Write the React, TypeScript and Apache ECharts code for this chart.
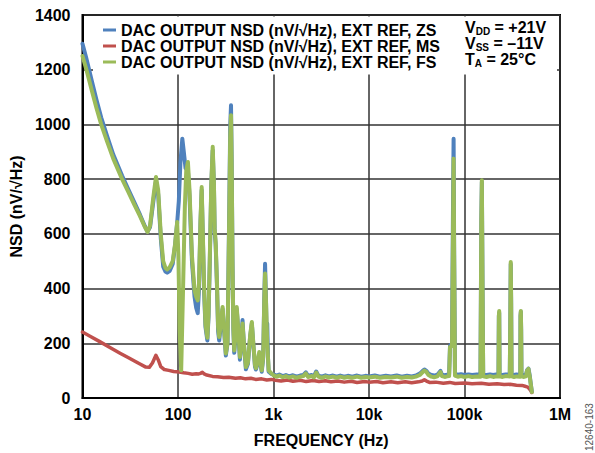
import React, { useEffect, useRef } from "react";
import * as echarts from "echarts";

// ---- data (frequency in Hz, NSD in nV/√Hz) ----
const seriesNames = [
  "DAC OUTPUT NSD (nV/√Hz), EXT REF, ZS",
  "DAC OUTPUT NSD (nV/√Hz), EXT REF, MS",
  "DAC OUTPUT NSD (nV/√Hz), EXT REF, FS",
];

const xTickValues = [10, 100, 1000, 10000, 100000, 1000000];
const xTickText = ["10", "100", "1k", "10k", "100k", "1M"];
const yTickValues = [0, 200, 400, 600, 800, 1000, 1200, 1400];

const conditionRows = [
  { main: "V", sub: "DD", rest: " = +21V" },
  { main: "V", sub: "SS", rest: " = –11V" },
  { main: "T", sub: "A", rest: " = 25°C" },
];

const zsData: number[][] = [
  [10, 1295], [11, 1240], [12.5, 1160], [14, 1090], [15.7, 1025], [18, 960], [21, 890], [26, 812],
  [30, 765], [35, 714], [40, 670], [45, 628], [48, 608], [51, 625], [55, 715], [58.8, 792], [62, 745],
  [66, 585], [70, 480], [74, 462], [77, 458], [82, 465], [88, 490], [93, 555], [98, 640], [102, 720],
  [106, 860], [111, 948], [115, 900], [120, 840], [127, 830], [132, 740], [140, 500], [149, 370],
  [155, 330], [161, 310], [166, 400], [172, 640], [177, 760], [182, 590], [188, 380], [194, 260],
  [203, 210], [209, 300], [215, 490], [223, 770], [231, 905], [238, 770], [242, 610], [248, 560],
  [256, 410], [263, 245], [270, 210], [282, 270], [293, 325], [305, 240], [317, 155], [330, 200],
  [345, 720], [352, 990], [359, 1070], [365, 870], [372, 510], [380, 250], [388, 165], [400, 225],
  [412, 325], [428, 245], [445, 140], [460, 205], [474, 285], [490, 195], [514, 105], [540, 125],
  [570, 225], [593, 272], [615, 195], [640, 115], [655, 104], [680, 125], [709, 160], [730, 125],
  [753, 96], [780, 145], [800, 360], [816, 491], [835, 355], [850, 200], [860, 272], [875, 150],
  [890, 96], [950, 88], [1000, 86], [1080, 82], [1150, 86], [1250, 80], [1350, 84], [1450, 79],
  [1600, 83], [1750, 78], [1900, 82], [2050, 84], [2180, 94], [2300, 81], [2500, 84], [2650, 79],
  [2800, 97], [2950, 82], [3200, 78], [3500, 83], [3800, 79], [4200, 82], [4600, 78], [5000, 82],
  [5500, 78], [6000, 81], [6700, 78], [7500, 82], [8300, 78], [9200, 81], [10000, 79], [11500, 82],
  [13000, 78], [15000, 81], [17000, 79], [19500, 82], [22000, 78], [25000, 81], [28000, 79],
  [31000, 82], [34000, 89], [36500, 99], [38000, 104], [40000, 99], [42000, 89], [45000, 84],
  [48000, 82], [52000, 85], [56000, 99], [58000, 86], [62000, 83], [66000, 85], [69000, 86],
  [70500, 190], [74000, 200], [75800, 700], [76900, 948], [78000, 520], [79500, 88], [85000, 85],
  [92000, 87], [100000, 84], [110000, 86], [120000, 84], [135000, 86], [147000, 85], [150000, 650],
  [152000, 790], [154500, 400], [157000, 86], [170000, 84], [185000, 86], [200000, 84], [215000, 86],
  [227000, 86], [229000, 300], [231000, 312], [233000, 86], [250000, 84], [270000, 86], [298000, 86],
  [302000, 300], [305000, 490], [308000, 350], [311000, 86], [330000, 84], [350000, 86], [384000, 84],
  [386000, 300], [389000, 315], [392000, 250], [395000, 86], [420000, 84], [440000, 85], [452000, 102],
  [460000, 90], [467000, 108], [474000, 96], [482000, 82], [495000, 50], [507000, 24],
];

const msData: number[][] = [
  [10, 241], [12, 226], [15, 207], [20, 182], [25, 163], [30, 148], [35, 135], [40, 124], [46, 113],
  [50, 112], [54, 128], [58.7, 156], [62, 140], [66, 115], [72, 104], [80, 101], [90, 97], [103, 95],
  [115, 92], [128, 90], [141, 87], [155, 89], [165, 88], [172, 90], [180, 94], [188, 88], [200, 84],
  [230, 79], [260, 78], [300, 75], [340, 76], [400, 72], [450, 74], [510, 70], [580, 72], [650, 68],
  [750, 70], [850, 66], [950, 68], [1050, 65], [1200, 62], [1400, 66], [1600, 61], [1900, 65],
  [2200, 60], [2600, 64], [3000, 60], [3500, 63], [4000, 59], [4700, 62], [5500, 58], [6500, 61],
  [7500, 57], [9000, 60], [10000, 58], [12000, 60], [14000, 56], [17000, 59], [20000, 56],
  [24000, 59], [28000, 56], [33000, 59], [36000, 62], [38000, 67], [40000, 62], [43000, 57],
  [50000, 58], [60000, 54], [70000, 57], [80000, 53], [100000, 55], [120000, 52], [150000, 54],
  [180000, 50], [220000, 52], [260000, 49], [300000, 50], [350000, 47], [400000, 46], [430000, 43],
  [460000, 40], [480000, 33], [495000, 26], [507000, 20],
];

const fsData: number[][] = [
  [10, 1250], [11, 1200], [12.5, 1125], [14, 1060], [15.7, 1000], [18, 940], [21, 875], [26, 800],
  [30, 755], [35, 706], [40, 665], [45, 625], [48, 607], [51, 630], [55, 730], [58.8, 808], [62, 760],
  [66, 600], [70, 500], [74, 475], [77, 470], [82, 478], [88, 500], [93, 560], [98, 643], [101, 520],
  [104, 250], [108, 101], [113, 400], [118, 700], [122, 830], [127, 863], [132, 760], [140, 520],
  [149, 394], [155, 370], [161, 357], [166, 420], [172, 650], [177, 771], [182, 600], [188, 400],
  [194, 270], [203, 220], [209, 310], [215, 500], [223, 780], [231, 918], [238, 780], [242, 620],
  [248, 570], [256, 420], [263, 260], [270, 223], [282, 280], [293, 333], [305, 250], [317, 163],
  [330, 200], [345, 700], [352, 950], [359, 1034], [365, 850], [372, 500], [380, 260], [388, 174],
  [400, 230], [412, 333], [428, 250], [445, 150], [460, 200], [474, 272], [490, 200], [514, 113],
  [540, 130], [570, 230], [593, 278], [615, 200], [640, 120], [655, 109], [680, 130], [709, 168],
  [730, 130], [753, 101], [780, 150], [800, 350], [816, 455], [835, 350], [860, 200], [890, 101],
  [950, 90], [1000, 83], [1080, 78], [1150, 82], [1250, 76], [1350, 80], [1450, 75], [1600, 79],
  [1750, 74], [1900, 78], [2050, 80], [2180, 90], [2300, 77], [2500, 80], [2650, 75], [2800, 93],
  [2950, 78], [3200, 74], [3500, 79], [3800, 75], [4200, 78], [4600, 74], [5000, 78], [5500, 74],
  [6000, 77], [6700, 74], [7500, 78], [8300, 74], [9200, 77], [10000, 75], [11500, 78], [13000, 74],
  [15000, 77], [17000, 75], [19500, 78], [22000, 74], [25000, 77], [28000, 75], [31000, 78],
  [34000, 84], [36500, 95], [38000, 100], [40000, 95], [42000, 84], [45000, 78], [48000, 76],
  [52000, 79], [56000, 95], [58000, 80], [62000, 77], [66000, 79], [69000, 80], [70500, 186],
  [74000, 190], [75800, 600], [76900, 875], [78000, 500], [79500, 82], [85000, 78], [92000, 80],
  [100000, 77], [110000, 80], [120000, 77], [135000, 79], [147000, 78], [150000, 650], [152000, 796],
  [154500, 400], [157000, 79], [170000, 77], [185000, 80], [200000, 77], [215000, 79], [227000, 79],
  [229000, 300], [231000, 318], [233000, 79], [250000, 77], [270000, 80], [298000, 79], [302000, 300],
  [305000, 497], [308000, 350], [311000, 79], [330000, 77], [350000, 79], [384000, 78], [386000, 300],
  [389000, 318], [392000, 250], [395000, 79], [420000, 77], [440000, 79], [452000, 100], [460000, 85],
  [467000, 107], [474000, 92], [482000, 78], [495000, 48], [507000, 22],
];

const colors = ["#4F81BD", "#C0504D", "#9BBB59"];

const FONT = "'Liberation Sans', Arial, Helvetica, sans-serif";

export default function App() {
  const ref = useRef<HTMLDivElement>(null);

  useEffect(() => {
    if (!ref.current) return;
    const chart = echarts.init(ref.current, undefined, { renderer: "svg" });

    const main = { fontSize: 16, fontWeight: "bold", fontFamily: FONT, color: "#000", lineHeight: 16, verticalAlign: "top" };
    const sub = { fontSize: 10, fontWeight: "bold", fontFamily: FONT, color: "#000", lineHeight: 9, verticalAlign: "top", padding: [7, 0, 0, 0] };

    const condTexts = conditionRows.map((r, i) => ({
      type: "text",
      z: 6,
      x: 465,
      y: 19 + i * 16,
      style: {
        text: `{m|${r.main}}{s|${r.sub}}{m|${r.rest}}`,
        rich: { m: main, s: sub },
      },
    }));

    const option: any = {
      animation: false,
      backgroundColor: "#fff",
      grid: {
        left: 81,
        right: 35,
        top: 15,
        bottom: 55,
        show: true,
        borderColor: "#000",
        borderWidth: 2,
        backgroundColor: "transparent",
      },
      legend: {
        orient: "vertical",
        left: 103,
        top: 22,
        padding: 0,
        itemGap: 0,
        itemWidth: 13,
        itemHeight: 3,
        icon: "rect",
        data: seriesNames,
        textStyle: { fontSize: 16, fontWeight: "bold", fontFamily: FONT, color: "#000", lineHeight: 15.5 },
        selectedMode: false,
        z: 6,
      },
      xAxis: {
        type: "log",
        logBase: 10,
        min: 10,
        max: 1000000,
        name: "FREQUENCY (Hz)",
        nameLocation: "middle",
        nameGap: 34,
        nameTextStyle: { fontSize: 16, fontWeight: "bold", fontFamily: FONT, color: "#000" },
        axisLine: { show: true, lineStyle: { color: "#000", width: 2 } },
        axisTick: { show: false },
        minorTick: { show: false },
        splitLine: { show: true, lineStyle: { color: "#333", width: 1.5 } },
        axisLabel: {
          margin: 8,
          fontSize: 16,
          fontWeight: "bold",
          fontFamily: FONT,
          color: "#000",
          formatter: (v: number) => {
            const i = xTickValues.findIndex((t) => Math.abs(Math.log10(t) - Math.log10(v)) < 1e-6);
            return i >= 0 ? xTickText[i] : "";
          },
        },
      },
      yAxis: {
        type: "value",
        min: yTickValues[0],
        max: yTickValues[yTickValues.length - 1],
        interval: 200,
        name: "NSD (nV/√Hz)",
        nameLocation: "middle",
        nameGap: 46,
        nameTextStyle: { fontSize: 16, fontWeight: "bold", fontFamily: FONT, color: "#000" },
        axisLine: { show: true, lineStyle: { color: "#000", width: 2 } },
        axisTick: { show: false },
        splitLine: { show: true, lineStyle: { color: "#333", width: 1.5 } },
        axisLabel: {
          margin: 12,
          fontSize: 16,
          fontWeight: "bold",
          fontFamily: FONT,
          color: "#000",
          formatter: (v: number) => String(v),
        },
      },
      graphic: [
        {
          type: "rect",
          z: 1,
          shape: { x: 93, y: 16.5, width: 464, height: 58 },
          style: { fill: "#fff" },
        },
        ...condTexts,
        {
          type: "text",
          z: 6,
          x: 584,
          y: 451,
          rotation: Math.PI / 2,
          style: {
            text: "12640-163",
            fontSize: 10,
            fontFamily: FONT,
            fill: "#555",
            align: "left",
            verticalAlign: "top",
          },
        },
      ],
      series: [
        {
          name: seriesNames[0],
          type: "line",
          data: zsData,
          showSymbol: false,
          symbol: "none",
          z: 3,
          lineStyle: { color: colors[0], width: 4, join: "round", cap: "round" },
          itemStyle: { color: colors[0] },
        },
        {
          name: seriesNames[1],
          type: "line",
          data: msData,
          showSymbol: false,
          symbol: "none",
          z: 2,
          lineStyle: { color: colors[1], width: 3.5, join: "round", cap: "round" },
          itemStyle: { color: colors[1] },
        },
        {
          name: seriesNames[2],
          type: "line",
          data: fsData,
          showSymbol: false,
          symbol: "none",
          z: 4,
          lineStyle: { color: colors[2], width: 4, join: "round", cap: "round" },
          itemStyle: { color: colors[2] },
        },
      ],
    };

    chart.setOption(option);
    return () => chart.dispose();
  }, []);

  return <div ref={ref} style={{ width: 595, height: 453, position: "absolute", left: 0, top: 0 }} />;
}
